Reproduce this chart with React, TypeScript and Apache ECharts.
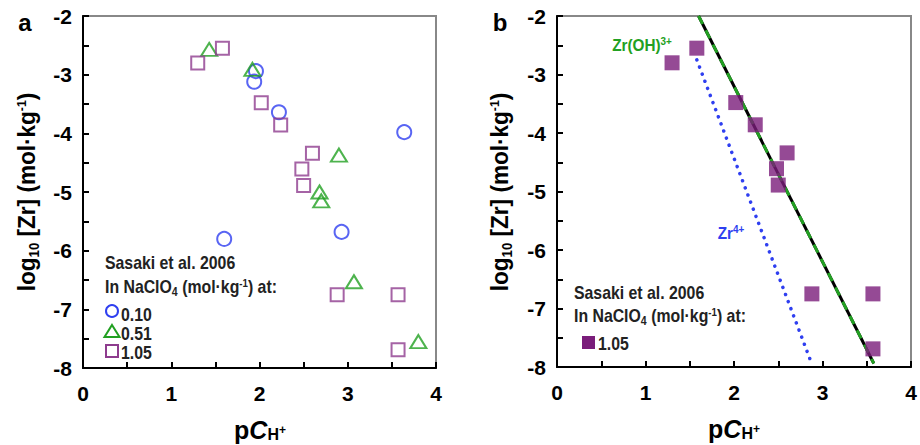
import React, { useEffect, useRef } from 'react';
import * as echarts from 'echarts';

const FONT = "'Liberation Sans Narrow', 'Liberation Sans', Arial, sans-serif";

// Panel a: Sasaki et al. 2006 data
const circleX = [1.96, 1.94, 2.22, 3.64, 1.6, 2.93];
const circleY = [-2.94, -3.12, -3.64, -3.98, -5.8, -5.68];
const triangleX = [1.43, 1.92, 2.9, 2.68, 2.7, 3.07, 3.8];
const triangleY = [-2.57, -2.91, -4.37, -5.0, -5.15, -6.53, -7.55];
const squareX = [1.3, 1.58, 2.02, 2.24, 2.6, 2.48, 2.5, 2.88, 3.57, 3.57];
const squareY = [-2.8, -2.55, -3.48, -3.86, -4.34, -4.61, -4.89, -6.75, -6.75, -7.69];

// Panel b: model lines
const zrOH3X = [1.6, 3.58];
const zrOH3Y = [-2.0, -7.94];
const zr4X = [1.58, 2.88];
const zr4Y = [-2.75, -7.95];

const xTicks = [0, 1, 2, 3, 4];
const yTicks = [-8, -7, -6, -5, -4, -3, -2];

const BLUE = '#2f3ff0';
const GREEN = '#22a022';
const PURPLE = '#8e3c8e';
const PURPLE_FILL = '#7a1d7a';

const zip = (xs: number[], ys: number[]) => xs.map((x, i) => [x, ys[i]]);

const labelFmt = (ticks: number[]) => (v: number) =>
  ticks.some((t) => Math.abs(t - v) < 1e-9) ? String(v) : '';

const makeX = (gridIndex: number) => ({
  type: 'value',
  gridIndex,
  min: 0,
  max: 4,
  interval: 0.5,
  axisLine: { show: true, onZero: false, lineStyle: { color: '#000', width: 2 } },
  axisTick: { show: true, inside: true, length: 6, lineStyle: { color: '#000', width: 2 } },
  splitLine: { show: false },
  axisLabel: {
    formatter: labelFmt(xTicks),
    fontSize: 21,
    fontWeight: 'bold',
    color: '#000',
    fontFamily: FONT,
    margin: 15,
  },
});

const makeY = (gridIndex: number) => ({
  type: 'value',
  gridIndex,
  min: -8,
  max: -2,
  interval: 0.5,
  axisLine: { show: true, onZero: false, lineStyle: { color: '#000', width: 2 } },
  axisTick: { show: true, inside: true, length: 6, lineStyle: { color: '#000', width: 2 } },
  splitLine: { show: false },
  axisLabel: {
    formatter: labelFmt(yTicks),
    fontSize: 21,
    fontWeight: 'bold',
    color: '#000',
    fontFamily: FONT,
    margin: 11,
  },
});

const base = { fontFamily: FONT, fontWeight: 'bold', fill: '#000' };

const legendRich = {
  n: { fontSize: 18, fontWeight: 'bold', fontFamily: FONT, fill: '#222', lineHeight: 22, verticalAlign: 'middle' },
  sub: { fontSize: 12, fontWeight: 'bold', fontFamily: FONT, fill: '#222', verticalAlign: 'bottom' },
  sup: { fontSize: 11, fontWeight: 'bold', fontFamily: FONT, fill: '#222', verticalAlign: 'top', padding: [2, 0, 0, 0] },
};

const yTitleRich = {
  n: { fontSize: 24, fontWeight: 'bold', fontFamily: FONT, fill: '#000', lineHeight: 28, verticalAlign: 'middle' },
  sub: { fontSize: 14, fontWeight: 'bold', fontFamily: FONT, fill: '#000', verticalAlign: 'bottom' },
  sup: { fontSize: 13, fontWeight: 'bold', fontFamily: FONT, fill: '#000', verticalAlign: 'top', padding: [2, 0, 0, 0] },
};

const xTitleRich = {
  p: { fontSize: 25, fontWeight: 'bold', fontFamily: FONT, fill: '#000', lineHeight: 30, verticalAlign: 'middle' },
  c: { fontSize: 25, fontWeight: 'bold', fontStyle: 'italic', fontFamily: FONT, fill: '#000', lineHeight: 30, verticalAlign: 'middle' },
  h: { fontSize: 16, fontWeight: 'bold', fontFamily: FONT, fill: '#000', verticalAlign: 'bottom', padding: [0, 0, 3, 0] },
  pl: { fontSize: 12, fontWeight: 'bold', fontFamily: FONT, fill: '#000', verticalAlign: 'bottom', padding: [0, 0, 9, 0] },
};

const yTitleText = '{n|log}{sub|10}{n| [Zr] (mol·kg}{sup|-1}{n|)}';
const xTitleText = '{p|p}{c|C}{h|H}{pl|+}';
const legendHead2 = '{n|In NaClO}{sub|4}{n| (mol·kg}{sup|-1}{n|) at:}';

const textEl = (x: number, y: number, text: string, rich: any, extra: any = {}) => {
  const { align, ...rest } = extra;
  return {
    type: 'text',
    x,
    y,
    ...rest,
    style: { text, rich, align: align || 'left', verticalAlign: 'middle', ...base },
  };
};

const NARROW = 0.88;

const option: any = {
  animation: false,
  backgroundColor: '#fff',
  grid: [
    { left: 83, top: 16, width: 353, height: 352, show: true, borderColor: '#888', borderWidth: 2 },
    { left: 557, top: 16, width: 354, height: 351, show: true, borderColor: '#888', borderWidth: 2 },
  ],
  xAxis: [makeX(0), makeX(1)],
  yAxis: [makeY(0), makeY(1)],
  series: [
    {
      name: '0.10',
      type: 'scatter',
      xAxisIndex: 0,
      yAxisIndex: 0,
      symbol: 'circle',
      symbolSize: 14,
      itemStyle: { color: 'rgba(0,0,0,0)', borderColor: BLUE, borderWidth: 2 },
      data: zip(circleX, circleY),
    },
    {
      name: '0.51',
      type: 'scatter',
      xAxisIndex: 0,
      yAxisIndex: 0,
      symbol: 'triangle',
      symbolSize: [16, 13],
      itemStyle: { color: 'rgba(0,0,0,0)', borderColor: GREEN, borderWidth: 2 },
      data: zip(triangleX, triangleY),
    },
    {
      name: '1.05',
      type: 'scatter',
      xAxisIndex: 0,
      yAxisIndex: 0,
      symbol: 'rect',
      symbolSize: 13,
      itemStyle: { color: 'rgba(0,0,0,0)', borderColor: PURPLE, borderWidth: 2 },
      data: zip(squareX, squareY),
    },
    {
      name: 'Zr4+',
      type: 'line',
      xAxisIndex: 1,
      yAxisIndex: 1,
      showSymbol: false,
      symbol: 'none',
      lineStyle: { color: BLUE, width: 3.5, type: [0.1, 7.5], cap: 'round' },
      data: zip(zr4X, zr4Y),
    },
    {
      name: 'Zr(OH)3+ black',
      type: 'line',
      xAxisIndex: 1,
      yAxisIndex: 1,
      showSymbol: false,
      symbol: 'none',
      lineStyle: { color: '#000', width: 3 },
      data: zip(zrOH3X, zrOH3Y),
    },
    {
      name: 'Zr(OH)3+',
      type: 'line',
      xAxisIndex: 1,
      yAxisIndex: 1,
      showSymbol: false,
      symbol: 'none',
      lineStyle: { color: GREEN, width: 3, type: [9, 7] },
      data: zip(zrOH3X, zrOH3Y),
    },
    {
      name: '1.05 b',
      type: 'scatter',
      xAxisIndex: 1,
      yAxisIndex: 1,
      symbol: 'rect',
      symbolSize: 15,
      itemStyle: { color: PURPLE_FILL },
      data: zip(squareX, squareY),
      z: 5,
    },
  ],
  graphic: [
    // panel letters
    { type: 'text', x: 25, y: 22, style: { text: 'a', fontSize: 24, ...base, align: 'center', verticalAlign: 'middle' } },
    { type: 'text', x: 500, y: 22, style: { text: 'b', fontSize: 24, ...base, align: 'center', verticalAlign: 'middle' } },
    // y titles
    textEl(27, 192, yTitleText, yTitleRich, { rotation: Math.PI / 2, align: 'center', scaleX: 0.94 }),
    textEl(500, 192, yTitleText, yTitleRich, { rotation: Math.PI / 2, align: 'center', scaleX: 0.94 }),
    // x titles
    textEl(260, 430, xTitleText, xTitleRich, { align: 'center' }),
    textEl(734, 429, xTitleText, xTitleRich, { align: 'center' }),
    // legend a
    textEl(105, 263, '{n|Sasaki et al. 2006}', legendRich, { scaleX: NARROW }),
    textEl(105, 287, legendHead2, legendRich, { scaleX: NARROW }),
    { type: 'circle', shape: { cx: 112, cy: 311, r: 6 }, style: { fill: 'none', stroke: BLUE, lineWidth: 2 } },
    { type: 'polygon', shape: { points: [[112, 325], [119.5, 337], [104.5, 337]] }, style: { fill: 'none', stroke: GREEN, lineWidth: 2 } },
    { type: 'rect', shape: { x: 106, y: 345, width: 12, height: 12 }, style: { fill: 'none', stroke: PURPLE, lineWidth: 2 } },
    textEl(121, 315, '{n|0.10}', legendRich, { scaleX: NARROW }),
    textEl(121, 334, '{n|0.51}', legendRich, { scaleX: NARROW }),
    textEl(121, 353, '{n|1.05}', legendRich, { scaleX: NARROW }),
    // legend b
    textEl(574, 293, '{n|Sasaki et al. 2006}', legendRich, { scaleX: NARROW }),
    textEl(574, 316, legendHead2, legendRich, { scaleX: NARROW }),
    { type: 'rect', shape: { x: 582, y: 336, width: 13, height: 13 }, style: { fill: PURPLE_FILL } },
    textEl(598, 344, '{n|1.05}', legendRich, { scaleX: NARROW }),
    // line labels
    textEl(642, 45, '{g|Zr(OH)}{gs|3+}', {
      g: { fontSize: 17, fontWeight: 'bold', fontFamily: FONT, fill: GREEN, lineHeight: 22, verticalAlign: 'middle' },
      gs: { fontSize: 11, fontWeight: 'bold', fontFamily: FONT, fill: GREEN, verticalAlign: 'top', padding: [2, 0, 0, 0] },
    }, { align: 'center', scaleX: 0.9 }),
    textEl(731, 233, '{b|Zr}{bs|4+}', {
      b: { fontSize: 17, fontWeight: 'bold', fontFamily: FONT, fill: BLUE, lineHeight: 22, verticalAlign: 'middle' },
      bs: { fontSize: 11, fontWeight: 'bold', fontFamily: FONT, fill: BLUE, verticalAlign: 'top', padding: [2, 0, 0, 0] },
    }, { align: 'center', scaleX: 0.9 }),
  ],
};

export default function App() {
  const ref = useRef<HTMLDivElement>(null);
  useEffect(() => {
    const chart = echarts.init(ref.current!, null, { renderer: 'svg' });
    chart.setOption(option);
    return () => chart.dispose();
  }, []);
  return (
    <div
      ref={ref}
      style={{ position: 'absolute', left: 0, top: 0, width: 920, height: 445, background: '#fff' }}
    />
  );
}
